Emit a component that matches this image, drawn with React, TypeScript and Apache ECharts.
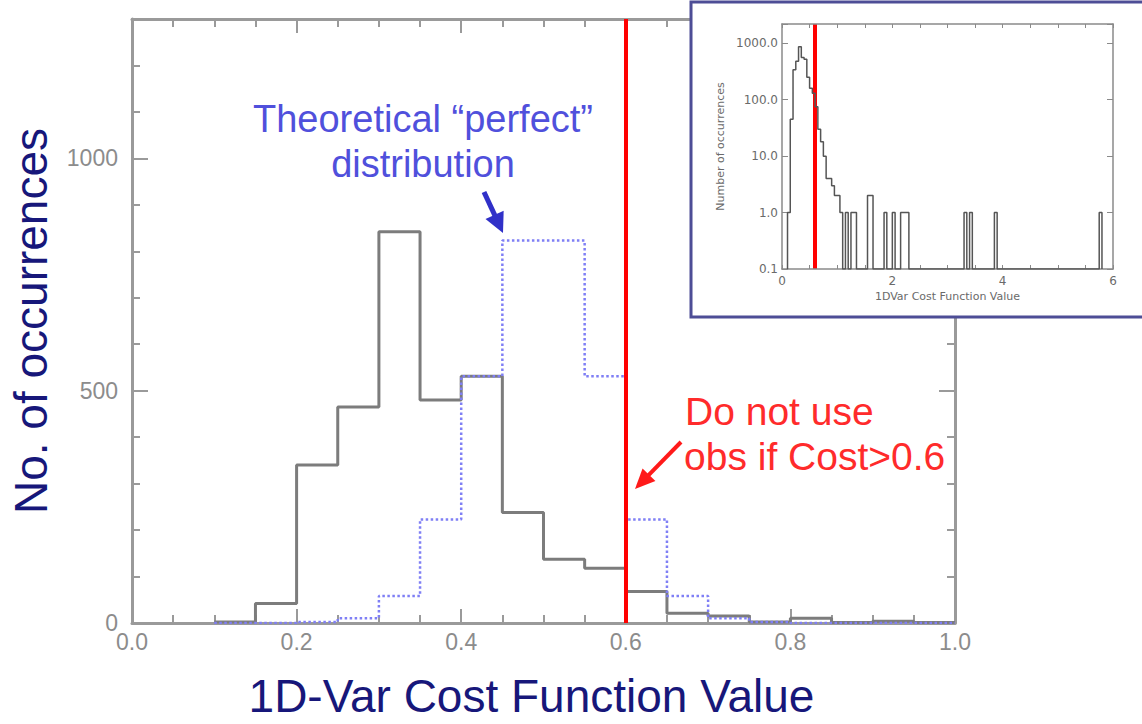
import React, { useEffect, useRef } from "react";
import * as echarts from "echarts";

// ---------- data ----------
const binWidth = 0.05;
const binStart = [0.1, 0.15, 0.2, 0.25, 0.3, 0.35, 0.4, 0.45, 0.5, 0.55, 0.6, 0.65, 0.7, 0.75, 0.8, 0.85, 0.9, 0.95];
const observed = [2, 42, 340, 465, 842, 480, 531, 238, 137, 118, 68, 21, 15, 2, 10, 1, 4, 1];
const theoretical = [0, 0, 2, 10, 58, 223, 531, 823, 823, 531, 223, 58, 10, 2, 0, 0, 0, 0];
const threshold = 0.6;
const xTickLabels = ["0.0", "0.2", "0.4", "0.6", "0.8", "1.0"];
const yTickLabels = ["0", "500", "1000"];

// inset (log scale, full range)
const insetBinStart = [0.1, 0.15, 0.2, 0.25, 0.3, 0.35, 0.4, 0.45, 0.5, 0.55, 0.6, 0.65, 0.7, 0.75, 0.8, 0.85, 0.9, 0.95, 1.0, 1.05, 1.15, 1.25, 1.3, 1.55, 1.6, 1.85, 2.0, 2.15, 2.2, 2.25, 3.3, 3.4, 3.85, 5.75];
const insetCount = [1, 45, 340, 480, 870, 560, 520, 250, 160, 130, 75, 30, 18, 10, 4, 4, 3, 2, 2, 1, 1, 1, 1, 2, 2, 1, 1, 1, 1, 1, 1, 1, 1, 1];
const insetFloor = 0.1;

// ---------- helpers ----------
function stepPoints(starts: number[], vals: number[], w: number) {
  const pts: number[][] = [];
  starts.forEach((x, i) => {
    pts.push([x, vals[i]]);
    pts.push([+(x + w).toFixed(4), vals[i]]);
  });
  return pts;
}

function sparseStepPoints(starts: number[], vals: number[], w: number, floor: number) {
  const pts: number[][] = [];
  let prevEnd: number | null = null;
  starts.forEach((x, i) => {
    if (prevEnd === null) pts.push([x, floor]);
    else if (Math.abs(x - prevEnd) > 1e-6) {
      pts.push([prevEnd, floor]);
      pts.push([x, floor]);
    }
    pts.push([x, vals[i]]);
    pts.push([+(x + w).toFixed(4), vals[i]]);
    prevEnd = +(x + w).toFixed(4);
  });
  if (prevEnd !== null) pts.push([prevEnd, floor]);
  return pts;
}

function arrow(x1: number, y1: number, x2: number, y2: number, color: string, width: number, headLen: number, headHalf: number) {
  const dx = x2 - x1, dy = y2 - y1;
  const L = Math.sqrt(dx * dx + dy * dy);
  const ux = dx / L, uy = dy / L;
  const bx = x2 - ux * headLen, by = y2 - uy * headLen;
  const px = -uy, py = ux;
  return [
    { type: "line", z: 20, shape: { x1, y1, x2: bx + ux * 2, y2: by + uy * 2 }, style: { stroke: color, lineWidth: width } },
    {
      type: "polygon", z: 20,
      shape: { points: [[x2, y2], [bx + px * headHalf, by + py * headHalf], [bx - px * headHalf, by - py * headHalf]] },
      style: { fill: color },
    },
  ];
}

const FONT = "Liberation Sans, Arial, sans-serif";
const GRAY = "#9a9a9a";
const NAVY = "#17177a";

export default function App() {
  const ref = useRef<HTMLDivElement>(null);
  useEffect(() => {
    if (!ref.current) return;
    const chart = echarts.init(ref.current, null, { renderer: "svg" });

    const mainX = (extra: any) => ({
      type: "value", gridIndex: 0, min: 0, max: 1, splitLine: { show: false },
      axisLine: { onZero: false, lineStyle: { color: GRAY, width: 3 } },
      ...extra,
    });
    const mainY = (extra: any) => ({
      type: "value", gridIndex: 0, min: 0, max: 1300, splitLine: { show: false },
      axisLine: { onZero: false, lineStyle: { color: GRAY, width: 3 } },
      ...extra,
    });
    const tick = (len: number) => ({ inside: true, length: len, lineStyle: { color: GRAY, width: 2 } });
    const insetColor = "#6a6a6a";
    const insetTick = (len: number) => ({ inside: true, length: len, lineStyle: { color: "#8a8a8a", width: 1 } });

    const option: any = {
      animation: false,
      backgroundColor: "#ffffff",
      grid: [
        { left: 132, right: 187, top: 19, bottom: 97 },
        { left: 782, top: 24, width: 331, height: 245 },
      ],
      xAxis: [
        mainX({
          position: "bottom", interval: 0.2, axisTick: tick(14),
          axisLabel: {
            fontSize: 23, color: "#8c8c8c", fontFamily: FONT, margin: 7,
            formatter: (v: number) => xTickLabels[Math.round(v / 0.2)] ?? "",
          },
          name: "1D-Var Cost Function Value", nameLocation: "middle", nameGap: 50,
          nameTextStyle: { fontSize: 46, color: NAVY, fontFamily: FONT, padding: [0, 24, 0, 0] },
        }),
        mainX({ position: "bottom", interval: 0.05, axisLine: { show: false, onZero: false }, axisTick: tick(8), axisLabel: { show: false } }),
        mainX({ position: "top", interval: 0.2, axisTick: tick(14), axisLabel: { show: false } }),
        mainX({ position: "top", interval: 0.05, axisLine: { show: false, onZero: false }, axisTick: tick(8), axisLabel: { show: false } }),
        {
          type: "value", gridIndex: 1, min: 0, max: 6, interval: 0.5, position: "bottom", z: 6,
          splitLine: { show: false },
          axisLine: { onZero: false, lineStyle: { color: "#8a8a8a", width: 1.5 } },
          axisTick: insetTick(4),
          axisLabel: {
            fontSize: 12, color: insetColor, fontFamily: "DejaVu Sans", margin: 6,
            formatter: (v: number) => (Math.abs(v - Math.round(v)) < 1e-6 && Math.round(v) % 2 === 0 ? String(Math.round(v)) : ""),
          },
          name: "1DVar Cost Function Value", nameLocation: "middle", nameGap: 22,
          nameTextStyle: { fontSize: 11, color: insetColor, fontFamily: "DejaVu Sans" },
        },
        {
          type: "value", gridIndex: 1, min: 0, max: 6, interval: 0.5, position: "top", z: 6,
          splitLine: { show: false },
          axisLine: { onZero: false, lineStyle: { color: "#8a8a8a", width: 1.5 } },
          axisTick: insetTick(4), axisLabel: { show: false },
        },
      ],
      yAxis: [
        mainY({
          position: "left", interval: 100, axisTick: tick(8),
          axisLabel: {
            fontSize: 23, color: "#8c8c8c", fontFamily: FONT, margin: 14,
            formatter: (v: number) => (v % 500 === 0 ? yTickLabels[v / 500] ?? "" : ""),
          },
          name: "No. of occurrences", nameLocation: "middle", nameGap: 78,
          nameTextStyle: { fontSize: 46, color: NAVY, fontFamily: FONT },
        }),
        mainY({ position: "left", interval: 500, axisLine: { show: false, onZero: false }, axisTick: tick(16), axisLabel: { show: false } }),
        mainY({ position: "right", interval: 100, axisTick: tick(8), axisLabel: { show: false } }),
        mainY({ position: "right", interval: 500, axisLine: { show: false, onZero: false }, axisTick: tick(16), axisLabel: { show: false } }),
        {
          type: "log", gridIndex: 1, min: 0.1, max: 2200, logBase: 10, position: "left", z: 6,
          splitLine: { show: false },
          axisLine: { onZero: false, lineStyle: { color: "#8a8a8a", width: 1.5 } },
          axisTick: insetTick(6),
          axisLabel: {
            fontSize: 12, color: insetColor, fontFamily: "DejaVu Sans", margin: 4,
            formatter: (v: number) => {
              const l = Math.log10(v);
              return Math.abs(l - Math.round(l)) < 1e-6 ? Math.pow(10, Math.round(l)).toFixed(1) : "";
            },
          },
          name: "Number of occurrences", nameLocation: "middle", nameGap: 56,
          nameTextStyle: { fontSize: 11, color: insetColor, fontFamily: "DejaVu Sans" },
        },
        {
          type: "log", gridIndex: 1, min: 0.1, max: 2200, logBase: 10, position: "right", z: 6,
          splitLine: { show: false },
          axisLine: { onZero: false, lineStyle: { color: "#8a8a8a", width: 1.5 } },
          axisTick: insetTick(6), axisLabel: { show: false },
        },
      ],
      series: [
        {
          type: "line", name: "Observed", xAxisIndex: 0, yAxisIndex: 0, z: 3,
          data: stepPoints(binStart, observed, binWidth), symbol: "none",
          lineStyle: { color: "#7c7c7c", width: 3 },
          markLine: {
            silent: true, symbol: "none", label: { show: false },
            lineStyle: { color: "#ff0000", width: 4, type: "solid" },
            data: [{ xAxis: threshold }],
          },
        },
        {
          type: "line", name: "Theoretical", xAxisIndex: 0, yAxisIndex: 0, z: 4,
          data: stepPoints(binStart, theoretical, binWidth), symbol: "none",
          lineStyle: { color: "#7f7ff5", width: 2.5, type: "dotted" },
        },
        {
          type: "line", name: "Inset", xAxisIndex: 4, yAxisIndex: 4, z: 7,
          data: sparseStepPoints(insetBinStart, insetCount, binWidth, insetFloor), symbol: "none",
          lineStyle: { color: "#555555", width: 1.5 },
          markLine: {
            silent: true, symbol: "none", label: { show: false },
            lineStyle: { color: "#ff0000", width: 4, type: "solid" },
            data: [{ xAxis: threshold }],
          },
        },
      ],
      graphic: [
        {
          type: "rect", z: 5, shape: { x: 691, y: 2, width: 460, height: 315 },
          style: { fill: "#ffffff", stroke: "#4d4d96", lineWidth: 3 },
        },
        {
          type: "text", z: 20, x: 423, y: 119,
          style: { text: "Theoretical \u201cperfect\u201d", fontSize: 38, fontFamily: FONT, fill: "#5050dc", align: "center", verticalAlign: "middle" },
        },
        {
          type: "text", z: 20, x: 423, y: 164,
          style: { text: "distribution", fontSize: 38, fontFamily: FONT, fill: "#5050dc", align: "center", verticalAlign: "middle" },
        },
        {
          type: "text", z: 20, x: 685, y: 411,
          style: { text: "Do not use", fontSize: 39, fontFamily: FONT, fill: "#ff2b2b", align: "left", verticalAlign: "middle" },
        },
        {
          type: "text", z: 20, x: 684, y: 456,
          style: { text: "obs if Cost>0.6", fontSize: 39, fontFamily: FONT, fill: "#ff2b2b", align: "left", verticalAlign: "middle" },
        },
        ...arrow(484, 192, 503, 233, "#3030c8", 5, 20, 10),
        ...arrow(681, 442, 635, 489, "#ff1a1a", 4, 20, 9),
      ],
    };
    chart.setOption(option);
    return () => chart.dispose();
  }, []);
  return <div ref={ref} style={{ position: "absolute", left: 0, top: 0, width: 1142, height: 724 }} />;
}
